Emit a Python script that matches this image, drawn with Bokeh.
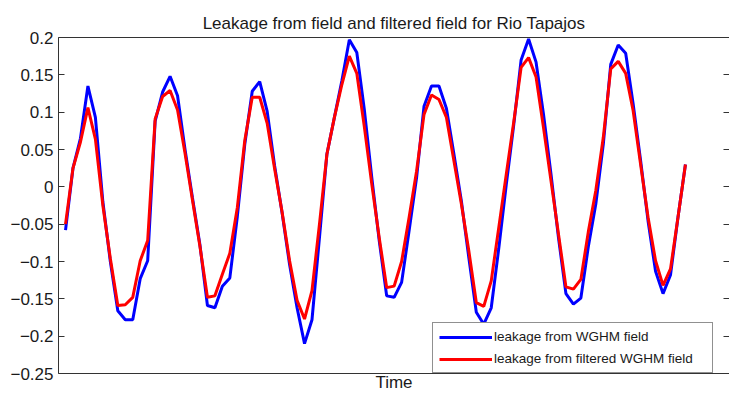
from bokeh.plotting import figure
from bokeh.models import (Range1d, LinearAxis, FixedTicker, Legend, LegendItem,
                          CustomJSTickFormatter)
from bokeh.embed import file_html
from bokeh.resources import INLINE

# Monthly leakage estimates (equivalent water height) for the Rio Tapajos basin
month = list(range(84))

leak_wghm = [
    -0.058, 0.025, 0.065, 0.135, 0.093, -0.020, -0.100, -0.166, -0.178, -0.178,
    -0.123, -0.099, 0.088, 0.127, 0.148, 0.122, 0.050, -0.015, -0.078, -0.159,
    -0.162, -0.133, -0.122, -0.040, 0.057, 0.128, 0.141, 0.101, 0.028, -0.035,
    -0.104, -0.162, -0.210, -0.178, -0.068, 0.044, 0.093, 0.142, 0.197, 0.180,
    0.104, 0.013, -0.072, -0.146, -0.148, -0.128, -0.059, 0.012, 0.108, 0.135,
    0.135, 0.105, 0.044, -0.019, -0.095, -0.168, -0.184, -0.162, -0.083, 0.002,
    0.082, 0.170, 0.198, 0.167, 0.097, 0.017, -0.068, -0.143, -0.157, -0.149,
    -0.080, -0.023, 0.057, 0.164, 0.190, 0.179, 0.111, 0.035, -0.046, -0.113,
    -0.143, -0.118, -0.041, 0.030,
]

leak_filtered = [
    -0.050, 0.025, 0.060, 0.106, 0.064, -0.025, -0.096, -0.159, -0.158, -0.148,
    -0.099, -0.072, 0.091, 0.121, 0.129, 0.103, 0.045, -0.018, -0.080, -0.148,
    -0.146, -0.117, -0.089, -0.028, 0.062, 0.120, 0.120, 0.085, 0.024, -0.034,
    -0.099, -0.152, -0.177, -0.139, -0.050, 0.044, 0.093, 0.137, 0.175, 0.152,
    0.081, 0.004, -0.068, -0.135, -0.133, -0.100, -0.041, 0.021, 0.097, 0.123,
    0.117, 0.093, 0.035, -0.023, -0.086, -0.155, -0.160, -0.126, -0.055, 0.016,
    0.086, 0.160, 0.173, 0.147, 0.079, 0.008, -0.063, -0.134, -0.137, -0.124,
    -0.060, -0.005, 0.066, 0.158, 0.168, 0.152, 0.102, 0.030, -0.041, -0.099,
    -0.132, -0.110, -0.041, 0.030,
]

y_ticks = [-0.25, -0.2, -0.15, -0.1, -0.05, 0, 0.05, 0.1, 0.15, 0.2]
y_tick_labels = ["\u22120.25", "\u22120.2", "\u22120.15", "\u22120.1", "\u22120.05",
                 "0", "0.05", "0.1", "0.15", "0.2"]

FONT = "Liberation Sans"
TEXT = "#1a1a1a"
AXIS = "#333333"

p = figure(width=729, height=394, output_backend="svg", toolbar_location=None,
           x_range=Range1d(-0.94, 88.9), y_range=Range1d(-0.25, 0.2),
           x_axis_location=None, y_axis_location=None,
           min_border_left=58, min_border_right=0,
           min_border_top=37, min_border_bottom=21)
p.outline_line_color = None
p.xgrid.visible = False
p.ygrid.visible = False
p.background_fill_color = "white"
p.border_fill_color = "white"

p.title.text = "Leakage from field and filtered field for Rio Tapajos"
p.title.align = "center"
p.title.text_font = FONT
p.title.text_font_size = "17px"
p.title.text_font_style = "normal"
p.title.text_color = TEXT

label_fmt = CustomJSTickFormatter(
    args=dict(vals=y_ticks, labels=y_tick_labels),
    code="""
        for (let i = 0; i < vals.length; i++) {
            if (Math.abs(vals[i] - tick) < 1e-9) return labels[i];
        }
        return "";
    """)

left = LinearAxis(ticker=FixedTicker(ticks=y_ticks), formatter=label_fmt)
left.major_tick_in = 6
left.major_tick_out = 0
left.minor_tick_in = 0
left.minor_tick_out = 0
left.major_label_standoff = 5
left.major_label_text_font = FONT
left.major_label_text_font_size = "17px"
left.major_label_text_color = TEXT
left.axis_line_color = AXIS
left.major_tick_line_color = AXIS
p.add_layout(left, "left")

right = LinearAxis(ticker=FixedTicker(ticks=y_ticks),
                   formatter=CustomJSTickFormatter(code="return '';"))
right.major_tick_in = 6
right.major_tick_out = 0
right.minor_tick_in = 0
right.minor_tick_out = 0
right.major_label_standoff = 0
right.major_label_text_font_size = "0px"
right.axis_line_color = None
right.major_tick_line_color = AXIS
p.add_layout(right, "right")

below = LinearAxis(ticker=FixedTicker(ticks=[]), axis_label="Time")
below.major_tick_in = 0
below.major_tick_out = 0
below.minor_tick_in = 0
below.minor_tick_out = 0
below.major_label_text_font_size = "0px"
below.major_label_standoff = 0
below.axis_label_standoff = -1
below.axis_label_text_font = FONT
below.axis_label_text_font_size = "17px"
below.axis_label_text_font_style = "normal"
below.axis_label_text_color = TEXT
below.axis_line_color = AXIS
p.add_layout(below, "below")

above = LinearAxis(ticker=FixedTicker(ticks=[]))
above.major_tick_in = 0
above.major_tick_out = 0
above.minor_tick_in = 0
above.minor_tick_out = 0
above.major_label_text_font_size = "0px"
above.major_label_standoff = 0
above.axis_line_color = AXIS
p.add_layout(above, "above")

r_wghm = p.line(month, leak_wghm, line_color="#0000ff", line_width=3)
r_filt = p.line(month, leak_filtered, line_color="#ff0000", line_width=3)

legend = Legend(items=[
    LegendItem(label="leakage from WGHM field", renderers=[r_wghm]),
    LegendItem(label="leakage from filtered WGHM field", renderers=[r_filt]),
], location=(374, 0))
legend.margin = 0
legend.padding = 6
legend.spacing = 7
legend.glyph_width = 53
legend.glyph_height = 14
legend.label_height = 14
legend.label_width = 212
legend.label_standoff = 2
legend.label_text_font = FONT
legend.label_text_font_size = "13.5px"
legend.label_text_color = TEXT
legend.border_line_color = "#222222"
legend.border_line_width = 1
legend.background_fill_color = "white"
legend.background_fill_alpha = 1.0
p.add_layout(legend)

open("out.html", "w").write(file_html(p, INLINE))
